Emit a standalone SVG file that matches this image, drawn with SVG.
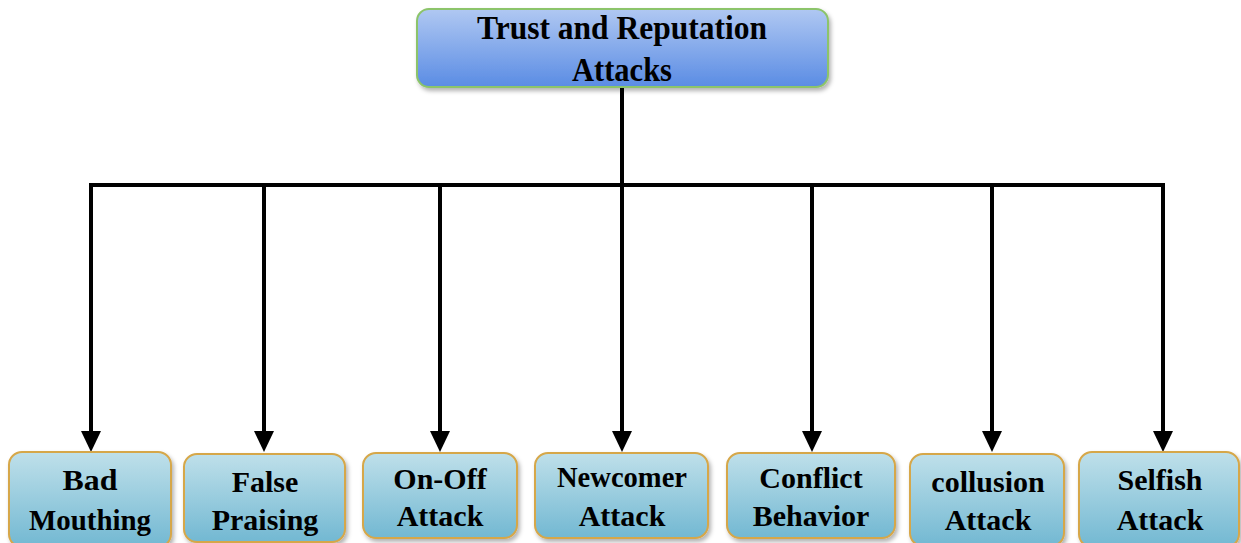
<svg xmlns="http://www.w3.org/2000/svg" width="1241" height="543" viewBox="0 0 1241 543">
<defs>
<linearGradient id="gTop" x1="0" y1="0" x2="0" y2="1">
<stop offset="0" stop-color="#b0c8f2"/>
<stop offset="1" stop-color="#5a8ce4"/>
</linearGradient>
<linearGradient id="gLeaf" x1="0" y1="0" x2="0" y2="1">
<stop offset="0" stop-color="#bfe0ea"/>
<stop offset="1" stop-color="#72b8d2"/>
</linearGradient>
<filter id="sh" x="-10%" y="-10%" width="120%" height="130%">
<feDropShadow dx="2" dy="3" stdDeviation="2" flood-color="#000" flood-opacity="0.3"/>
</filter>
</defs>
<style>
.t{font-family:"Liberation Serif","Times New Roman",serif;font-weight:bold;fill:#000;text-anchor:middle}
.top{font-size:34px}
.leaf{font-size:30px}
.conn{stroke:#000;stroke-width:4;fill:none}
.tb{fill:url(#gTop);stroke:#8cc46a;stroke-width:2}
.lb{fill:url(#gLeaf);stroke:#d6a748;stroke-width:2}
</style>
<rect width="1241" height="543" fill="#fff"/>
<g id="connectors">
<path class="conn" d="M622,87 V185"/>
<path class="conn" d="M91,185 H1163" stroke-linejoin="round"/>
<path class="conn" d="M91,183 V432"/>
<path class="conn" d="M264,185 V432"/>
<path class="conn" d="M440,185 V432"/>
<path class="conn" d="M622,185 V432"/>
<path class="conn" d="M812,185 V432"/>
<path class="conn" d="M992,185 V432"/>
<path class="conn" d="M1163,183 V432"/>
<path d="M81,431 H101 L91,452 Z"/>
<path d="M254,431 H274 L264,452 Z"/>
<path d="M430,431 H450 L440,452 Z"/>
<path d="M612,431 H632 L622,452 Z"/>
<path d="M802,431 H822 L812,452 Z"/>
<path d="M982,431 H1002 L992,452 Z"/>
<path d="M1153,431 H1173 L1163,452 Z"/>
</g>
<g id="root">
<rect class="tb" x="417" y="9" width="411" height="78" rx="12" filter="url(#sh)"/>
<text class="t top" x="622" y="39" textLength="290" lengthAdjust="spacingAndGlyphs">Trust and Reputation</text>
<text class="t top" x="622" y="81" textLength="100" lengthAdjust="spacingAndGlyphs">Attacks</text>
</g>
<g id="bad-mouthing">
<rect class="lb" x="9" y="452" width="162" height="95" rx="13" filter="url(#sh)"/>
<text class="t leaf" x="90" y="490" textLength="55" lengthAdjust="spacingAndGlyphs">Bad</text>
<text class="t leaf" x="90" y="530" textLength="122" lengthAdjust="spacingAndGlyphs">Mouthing</text>
</g>
<g id="false-praising">
<rect class="lb" x="184" y="454" width="161" height="88" rx="13" filter="url(#sh)"/>
<text class="t leaf" x="265" y="492">False</text>
<text class="t leaf" x="265" y="530">Praising</text>
</g>
<g id="on-off">
<rect class="lb" x="363" y="453" width="154" height="85" rx="13" filter="url(#sh)"/>
<text class="t leaf" x="440" y="489">On-Off</text>
<text class="t leaf" x="440" y="526">Attack</text>
</g>
<g id="newcomer">
<rect class="lb" x="535" y="453" width="173" height="85" rx="13" filter="url(#sh)"/>
<text class="t leaf" x="622" y="487" textLength="130" lengthAdjust="spacingAndGlyphs">Newcomer</text>
<text class="t leaf" x="622" y="526">Attack</text>
</g>
<g id="conflict">
<rect class="lb" x="727" y="453" width="168" height="85" rx="13" filter="url(#sh)"/>
<text class="t leaf" x="811" y="488">Conflict</text>
<text class="t leaf" x="811" y="526">Behavior</text>
</g>
<g id="collusion">
<rect class="lb" x="910" y="454" width="154" height="92" rx="13" filter="url(#sh)"/>
<text class="t leaf" x="988" y="492">collusion</text>
<text class="t leaf" x="988" y="530">Attack</text>
</g>
<g id="selfish">
<rect class="lb" x="1079" y="452" width="160" height="95" rx="13" filter="url(#sh)"/>
<text class="t leaf" x="1160" y="490">Selfish</text>
<text class="t leaf" x="1160" y="530">Attack</text>
</g>
</svg>
